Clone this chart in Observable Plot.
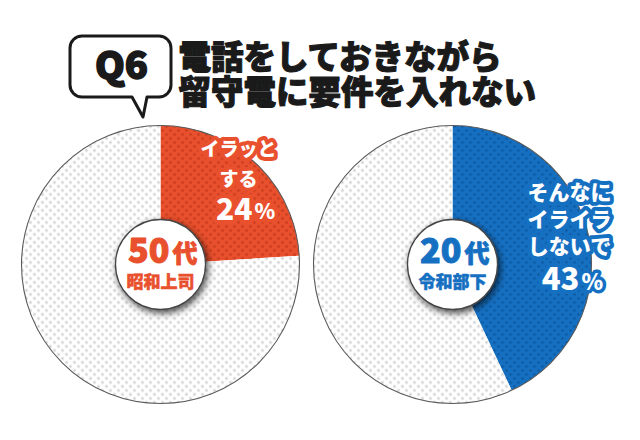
<!DOCTYPE html>
<html><head><meta charset="utf-8">
<script src="https://cdn.jsdelivr.net/npm/d3@7"></script>
<script src="https://cdn.jsdelivr.net/npm/@observablehq/plot@0.6"></script>
<style>html,body{margin:0;padding:0;background:#fff}</style>
</head><body><div id="chart"></div>
<script>
// ---- data ----
const question = "Q6";
const titleLines = ["電話をしておきながら", "留守電に要件を入れない"];
const groupAges = ["50", "20"];
const groupSuffix = "代";
const groupNames = ["昭和上司", "令和部下"];
const answerLines = [["イラッと", "する"], ["そんなに", "イライラ", "しないで"]];
const shares = [24, 43];
const percentSign = "%";

// ---- layout / style ----
const W = 640, H = 440;
const R = 139, R0 = 45;
const centers = [[160, 264], [452, 264]];
const sliceColors = ["#e9502d", "#1670c2"];
const dotColors = ["#c23a1c", "#0d579d"];
const labelLayout = [
  {x: 238, y: 161, dy: 30, size: 19, numX: 252, numY: 210, numSize: 30, pctSize: 21},
  {x: 569, y: 218, dy: 27, size: 21, numX: 579, numY: 280, numSize: 31, pctSize: 22}
];
const FONT = "Noto Sans CJK JP";

const pies = shares.map((s, i) => ({
  i, share: s, age: groupAges[i], name: groupNames[i],
  cx: centers[i][0], cy: centers[i][1]
}));

function sector(p, from, to, kind) {
  const pts = [{x: p.cx, y: p.cy}];
  const n = Math.max(2, Math.ceil((to - from) / (Math.PI / 360)));
  for (let k = 0; k <= n; k++) {
    const a = from + (to - from) * k / n;
    pts.push({x: p.cx + R * Math.sin(a), y: p.cy - R * Math.cos(a)});
  }
  pts.push({x: p.cx, y: p.cy});
  return {pts, kind, i: p.i};
}
const sectors = pies.flatMap(p => {
  const a = p.share / 100 * 2 * Math.PI;
  return [sector(p, 0, a, "answer"), sector(p, a, 2 * Math.PI, "rest")];
});

function defsMark() {
  const d = d3.create("svg:defs");
  const mk = (id, bg, dot, r) => {
    const p = d.append("pattern").attr("id", id).attr("patternUnits", "userSpaceOnUse")
      .attr("width", 8).attr("height", 8);
    p.append("rect").attr("width", 8).attr("height", 8).attr("fill", bg);
    p.append("circle").attr("cx", 2).attr("cy", 2).attr("r", r).attr("fill", dot);
    p.append("circle").attr("cx", 6).attr("cy", 6).attr("r", r).attr("fill", dot);
  };
  mk("pat-rest", "#ffffff", "#d0d0d0", 1.4);
  sliceColors.forEach((c, i) => mk("pat-" + i, c, dotColors[i], 1.3));
  const f = d.append("filter").attr("id", "shadow").attr("x", "-40%").attr("y", "-40%")
    .attr("width", "180%").attr("height", "180%");
  f.append("feDropShadow").attr("dx", 2).attr("dy", 3).attr("stdDeviation", 3.5)
    .attr("flood-color", "#000").attr("flood-opacity", 0.7);
  return d.node();
}

function bubbleMark(index, {x, y}) {
  const x0 = x(70), x1 = x(171), y0 = y(36), y1 = y(97), rd = 12;
  const p = d3.path();
  p.moveTo(x0 + rd, y0);
  p.lineTo(x1 - rd, y0);
  p.arcTo(x1, y0, x1, y0 + rd, rd);
  p.lineTo(x1, y1 - rd);
  p.arcTo(x1, y1, x1 - rd, y1, rd);
  p.lineTo(x(147), y1);
  p.lineTo(x(143), y(117));
  p.lineTo(x(132), y1);
  p.lineTo(x0 + rd, y1);
  p.arcTo(x0, y1, x0, y1 - rd, rd);
  p.lineTo(x0, y0 + rd);
  p.arcTo(x0, y0, x0 + rd, y0, rd);
  p.closePath();
  return d3.create("svg:path").attr("d", p.toString()).attr("fill", "#fff")
    .attr("stroke", "#1a1a1a").attr("stroke-width", 3).attr("stroke-linejoin", "round").node();
}

const halo = {fill: "#fff", strokeLinejoin: "round", fontWeight: 900, fontFamily: FONT};

const marks = [
  defsMark,
  // slices
  ...sectors.map(s => Plot.line(s.pts, {
    x: "x", y: "y", curve: "linear",
    fill: s.kind === "answer" ? `url(#pat-${s.i})` : "url(#pat-rest)",
    stroke: "none"
  })),
  // pie outlines
  Plot.dot(pies, {x: "cx", y: "cy", r: R, fill: "none", stroke: "#5a5a5a", strokeWidth: 1.1}),
  // inner circles
  Plot.dot(pies, {x: "cx", y: "cy", r: R0, fill: "#fff", stroke: "#444", strokeWidth: 1.3}),
  // inner labels
  Plot.text(pies, {x: d => d.cx + 9, y: d => d.cy - 12, text: "age", textAnchor: "end",
    fill: (d) => sliceColors[d.i], stroke: (d) => sliceColors[d.i], strokeWidth: 1,
    fontSize: 34, fontWeight: 900, fontFamily: FONT}),
  Plot.text(pies, {x: d => d.cx + 12, y: d => d.cy - 10, text: () => groupSuffix, textAnchor: "start",
    fill: (d) => sliceColors[d.i], stroke: (d) => sliceColors[d.i], strokeWidth: 0.8,
    fontSize: 25, fontWeight: 900, fontFamily: FONT}),
  Plot.text(pies, {x: "cx", y: d => d.cy + 18, text: "name",
    fill: (d) => sliceColors[d.i], stroke: (d) => sliceColors[d.i], strokeWidth: 0.5,
    fontSize: 17, fontWeight: 900, fontFamily: FONT}),
  // answer labels (one multi-line text per pie)
  ...pies.map(p => Plot.text([p], {
    x: d => labelLayout[d.i].x, y: d => labelLayout[d.i].y, text: d => answerLines[d.i].join("\n"),
    lineHeight: labelLayout[p.i].dy / labelLayout[p.i].size, fontSize: labelLayout[p.i].size,
    stroke: sliceColors[p.i], strokeWidth: 8, ...halo})),
  Plot.text(pies, {x: d => labelLayout[d.i].numX, y: d => labelLayout[d.i].numY, text: d => String(d.share),
    textAnchor: "end", fontSize: d => labelLayout[d.i].numSize, stroke: d => sliceColors[d.i], strokeWidth: 8, ...halo}),
  Plot.text(pies, {x: d => labelLayout[d.i].numX + 2, y: d => labelLayout[d.i].numY + 2, text: () => percentSign,
    textAnchor: "start", fontSize: d => labelLayout[d.i].pctSize, stroke: d => sliceColors[d.i], strokeWidth: 7, ...halo}),
  // title
  bubbleMark,
  Plot.text([question], {x: 121, y: 66, text: d => d, fill: "#1a1a1a", stroke: "#1a1a1a", strokeWidth: 1.6,
    fontSize: 38, fontWeight: 900, fontFamily: FONT}),
  Plot.text([titleLines.join("\n")], {x: 178, y: 74.5, text: d => d, textAnchor: "start", lineHeight: 35 / 32.5,
    fill: "#1a1a1a", stroke: "#1a1a1a", strokeWidth: 1.1, fontSize: 32.5, fontWeight: 900, fontFamily: FONT})
];

const chart = Plot.plot({
  width: W, height: H, margin: 0,
  x: {domain: [0, W], range: [0, W], axis: null},
  y: {domain: [0, H], range: [0, H], axis: null},
  style: {background: "#fff", fontFamily: FONT},
  marks
});
// drop shadow on inner circles (second dot mark)
const dotGroups = chart.querySelectorAll('g[aria-label="dot"]');
if (dotGroups.length) dotGroups[dotGroups.length - 1].setAttribute("filter", "url(#shadow)");
document.getElementById("chart").appendChild(chart);
</script>
</body></html>
